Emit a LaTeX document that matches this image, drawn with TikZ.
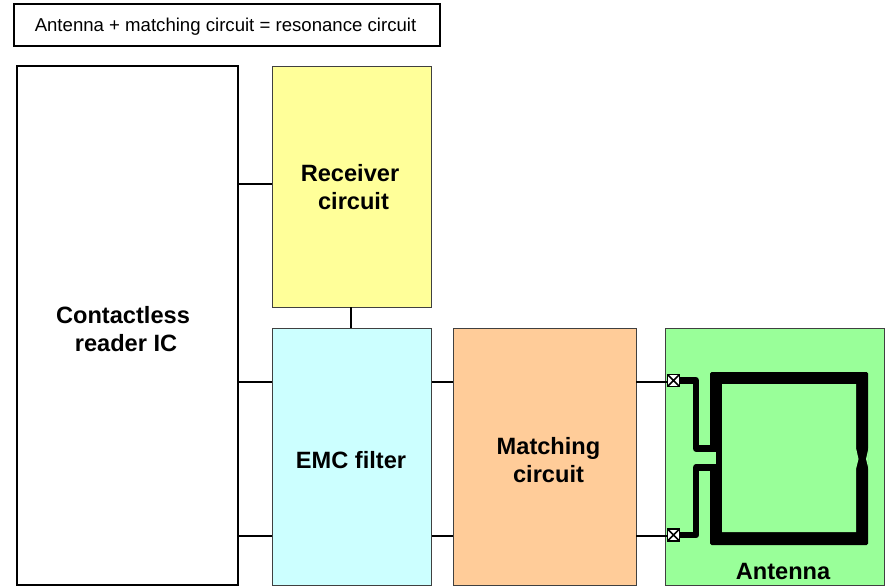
\documentclass[tikz,border=0pt]{standalone}
\usepackage{fontspec}
\setmainfont{Liberation Sans}
\definecolor{rxc}{HTML}{FFFF99}
\definecolor{emc}{HTML}{CCFFFF}
\definecolor{mtc}{HTML}{FFCC99}
\definecolor{anc}{HTML}{99FF99}
\tikzset{
  labeltext/.style={align=center,inner sep=0pt,font=\fontsize{23.6pt}{28pt}\selectfont\bfseries},
  blockbox/.style={draw=black!75,line width=1pt,outer sep=0pt,inner sep=0pt,anchor=north west},
  plainbox/.style={blockbox,draw=black,line width=2pt},
  wire/.style={draw=black,line width=2pt},
  lead/.style={draw=black,line width=6.5pt,line join=round,line cap=round},
  padbox/.style={draw=black,fill=white,line width=1.8pt,minimum size=12pt,inner sep=0pt,outer sep=0pt,
    path picture={\draw[black,line width=1.6pt] (path picture bounding box.north west) -- (path picture bounding box.south east)
      (path picture bounding box.south west) -- (path picture bounding box.north east);}}
}
\begin{document}
\begin{tikzpicture}[x=1pt,y=-1pt]
\useasboundingbox (0,0) rectangle (885,586);
\node[plainbox,minimum width=426pt,minimum height=42pt] (hdr) at (14,4) {};
\node[align=center,inner sep=0pt,font=\fontsize{18.6pt}{22pt}\selectfont] (hdrlabel) at (225.5,27) {Antenna + matching circuit = resonance circuit};
\node[plainbox,minimum width=221pt,minimum height=519pt] (ic) at (17,66) {};
\node[blockbox,fill=rxc,minimum width=159.5pt,minimum height=241pt] (rx) at (272,66) {};
\node[blockbox,fill=emc,minimum width=159.5pt,minimum height=257pt] (emc) at (272,328) {};
\node[blockbox,fill=mtc,minimum width=183pt,minimum height=257pt] (mt) at (453,328) {};
\node[blockbox,fill=anc,minimum width=219pt,minimum height=257pt] (an) at (665,328) {};
\node[labeltext] (iclabel) at (123,329) {Contactless\\\hspace*{6pt}reader IC};
\node[labeltext] (rxlabel) at (350,187) {Receiver\\\hspace*{7pt}circuit};
\node[labeltext] (emclabel) at (351,460) {EMC filter};
\node[labeltext] (mtlabel) at (548.5,460) {Matching\\circuit};
\node[labeltext] (anlabel) at (783,571) {Antenna};
% coil
\fill[black,rounded corners=1.5pt]
  (710,372) -- (868,372) -- (868,545) -- (710,545) -- cycle;
\fill[anc] (722,384) -- (856,384) -- (856,448) -- (858.5,459) -- (856,469) -- (856,532) -- (722,532) -- cycle;
\fill[anc] (868.5,448) -- (866,459) -- (868.5,469) -- cycle;
\fill[anc] (709,452) rectangle (715.5,464);
% leads
\node[padbox] (p1) at (673.5,380.5) {};
\node[padbox] (p2) at (673.5,535) {};
\coordinate (l1a) at (696,380.5);
\coordinate (l1b) at (696,448.5);
\coordinate (l1c) at (712,448.5);
\coordinate (l2a) at (696,535);
\coordinate (l2b) at (696,467.5);
\coordinate (l2c) at (712,467.5);
\draw[lead] (l1c) -- (l1b) -- (l1a) -- (p1.east);
\draw[lead] (l2c) -- (l2b) -- (l2a) -- (p2.east);
\node[padbox] at (p1) {};
\node[padbox] at (p2) {};
% wires
\draw[wire] (ic.east |- 0,184) -- (rx.west |- 0,184);
\draw[wire] (rx.south -| 351,0) -- (emc.north -| 351,0);
\draw[wire] (ic.east |- 0,382) -- (emc.west |- 0,382);
\draw[wire] (ic.east |- 0,536) -- (emc.west |- 0,536);
\draw[wire] (emc.east |- 0,382) -- (mt.west |- 0,382);
\draw[wire] (emc.east |- 0,536) -- (mt.west |- 0,536);
\draw[wire] (mt.east |- 0,382) -- (p1.west |- 0,382);
\draw[wire] (mt.east |- 0,536) -- (p2.west |- 0,536);
\end{tikzpicture}
\end{document}
